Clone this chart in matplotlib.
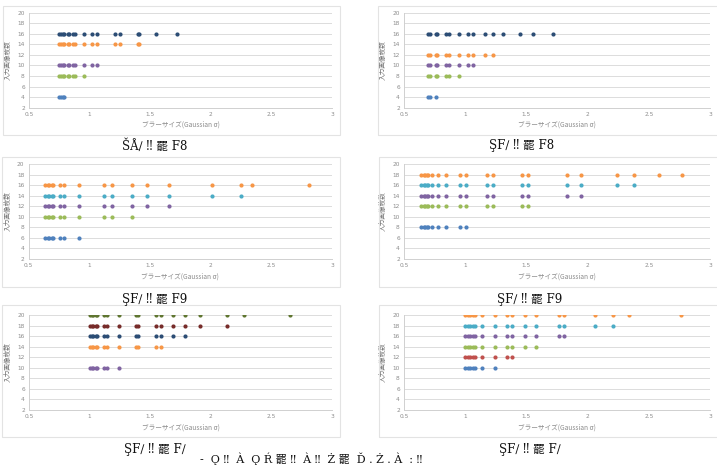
import matplotlib
matplotlib.use("Agg")
import matplotlib.pyplot as plt
from matplotlib.patches import Rectangle

# ---------------- data ----------------
x_ticks = [0.5, 1, 1.5, 2, 2.5, 3]
x_tick_labels = ["0.5", "1", "1.5", "2", "2.5", "3"]
y_ticks = [2, 4, 6, 8, 10, 12, 14, 16, 18, 20]

x_label = "ブラーサイズ(Gaussian σ)"
y_label = "入力画像枚数"

captions = ["ŠÅ∕ ‼ 罷 F8", "ŞF∕ ‼ 罷 F8", "ŞF∕ ‼ 罷 F9",
            "ŞF∕ ‼ 罷 F9", "ŞF∕ ‼ 罷 F∕", "ŞF∕ ‼ 罷 F∕"]
bottom_text = "-  Ǫ ‼  À  Ǫ Ŕ 罷 ‼  À ‼  Ż 罷  Ď . Ż . À  : ‼"

# panel 1 (top-left)
p1_y4 = [0.75, 0.76, 0.78, 0.79]
p1_y8 = [0.75, 0.76, 0.78, 0.79, 0.82, 0.83, 0.86, 0.88, 0.95]
p1_y10 = [0.75, 0.76, 0.78, 0.79, 0.82, 0.83, 0.86, 0.88, 0.95, 1.02, 1.06]
p1_y14 = [0.75, 0.76, 0.78, 0.79, 0.82, 0.83, 0.86, 0.88, 0.95, 1.02, 1.06,
          1.21, 1.25, 1.40, 1.41]
p1_y16 = [0.75, 0.76, 0.78, 0.79, 0.82, 0.83, 0.86, 0.88, 0.95, 1.02, 1.06,
          1.21, 1.25, 1.40, 1.41, 1.55, 1.72]

# panel 2 (top-right)
p2_y4 = [0.70, 0.71, 0.76]
p2_y8 = [0.70, 0.71, 0.76, 0.77, 0.84, 0.87, 0.95]
p2_y10 = [0.70, 0.71, 0.76, 0.77, 0.84, 0.87, 0.95, 1.02, 1.06]
p2_y12 = [0.70, 0.71, 0.76, 0.77, 0.84, 0.87, 0.95, 1.02, 1.06, 1.16, 1.23]
p2_y16 = [0.70, 0.71, 0.76, 0.77, 0.84, 0.87, 0.95, 1.02, 1.06, 1.16, 1.23,
          1.31, 1.45, 1.55, 1.72]

# panel 3 (middle-left)
p3_y6 = [0.64, 0.66, 0.67, 0.69, 0.70, 0.76, 0.79, 0.92]
p3_y10 = [0.64, 0.66, 0.67, 0.69, 0.70, 0.76, 0.79, 0.92, 1.12, 1.19, 1.35]
p3_y12 = [0.64, 0.66, 0.67, 0.69, 0.70, 0.76, 0.79, 0.92, 1.12, 1.19, 1.35,
          1.48, 1.66]
p3_y14 = [0.64, 0.66, 0.67, 0.69, 0.70, 0.76, 0.79, 0.92, 1.12, 1.19, 1.35,
          1.48, 1.66, 2.01, 2.25]
p3_y16 = [0.64, 0.66, 0.67, 0.69, 0.70, 0.76, 0.79, 0.92, 1.12, 1.19, 1.35,
          1.48, 1.66, 2.01, 2.25, 2.34, 2.81]

# panel 4 (middle-right)
p4_y8 = [0.64, 0.66, 0.67, 0.69, 0.70, 0.73, 0.78, 0.84, 0.96, 1.01]
p4_y12 = [0.64, 0.66, 0.67, 0.69, 0.70, 0.73, 0.78, 0.84, 0.96, 1.01,
          1.18, 1.23, 1.46, 1.51]
p4_y14 = [0.64, 0.66, 0.67, 0.69, 0.70, 0.73, 0.78, 0.84, 0.96, 1.01,
          1.18, 1.23, 1.46, 1.51, 1.83, 1.95]
p4_y16 = [0.64, 0.66, 0.67, 0.69, 0.70, 0.73, 0.78, 0.84, 0.96, 1.01,
          1.18, 1.23, 1.46, 1.51, 1.83, 1.95, 2.24, 2.38]
p4_y18 = [0.64, 0.66, 0.67, 0.69, 0.70, 0.73, 0.78, 0.84, 0.96, 1.01,
          1.18, 1.23, 1.46, 1.51, 1.83, 1.95, 2.24, 2.38, 2.58, 2.77]

# panel 5 (bottom-left)
p5_y10 = [1.00, 1.02, 1.03, 1.05, 1.06, 1.12, 1.14, 1.24]
p5_y14 = [1.00, 1.02, 1.03, 1.05, 1.06, 1.12, 1.14, 1.24, 1.38, 1.40, 1.55, 1.59]
p5_y16 = [1.00, 1.02, 1.03, 1.05, 1.06, 1.12, 1.14, 1.24, 1.38, 1.40, 1.55, 1.59,
          1.69, 1.79]
p5_y18 = [1.00, 1.02, 1.03, 1.05, 1.06, 1.12, 1.14, 1.24, 1.38, 1.40, 1.55, 1.59,
          1.69, 1.79, 1.91, 2.13]
p5_y20 = [1.00, 1.02, 1.03, 1.05, 1.06, 1.12, 1.14, 1.24, 1.38, 1.40, 1.55, 1.59,
          1.69, 1.79, 1.91, 2.13, 2.27, 2.65]

# panel 6 (bottom-right)
p6_y10 = [1.00, 1.02, 1.04, 1.06, 1.08, 1.14, 1.24]
p6_y12 = [1.00, 1.02, 1.04, 1.06, 1.08, 1.14, 1.24, 1.34, 1.38]
p6_y14 = [1.00, 1.02, 1.04, 1.06, 1.08, 1.14, 1.24, 1.34, 1.38, 1.49, 1.58]
p6_y16 = [1.00, 1.02, 1.04, 1.06, 1.08, 1.14, 1.24, 1.34, 1.38, 1.49, 1.58,
          1.77, 1.81]
p6_y18 = [1.00, 1.02, 1.04, 1.06, 1.08, 1.14, 1.24, 1.34, 1.38, 1.49, 1.58,
          1.77, 1.81, 2.06, 2.21]
p6_y20 = [1.00, 1.02, 1.04, 1.06, 1.08, 1.14, 1.24, 1.34, 1.38, 1.49, 1.58,
          1.77, 1.81, 2.06, 2.21, 2.34, 2.76]

# ---------------- styles ----------------
BLUE, RED, GREEN, PURPLE = "#4F81BD", "#C0504D", "#9BBB59", "#8064A2"
AQUA, ORANGE = "#4BACC6", "#F79646"
DBLUE, DRED, DGREEN = "#2C4D75", "#772C2A", "#5F7530"

panels = [
    [(4, p1_y4, BLUE), (8, p1_y8, GREEN), (10, p1_y10, PURPLE),
     (14, p1_y14, ORANGE), (16, p1_y16, DBLUE)],
    [(4, p2_y4, BLUE), (8, p2_y8, GREEN), (10, p2_y10, PURPLE),
     (12, p2_y12, ORANGE), (16, p2_y16, DBLUE)],
    [(6, p3_y6, BLUE), (10, p3_y10, GREEN), (12, p3_y12, PURPLE),
     (14, p3_y14, AQUA), (16, p3_y16, ORANGE)],
    [(8, p4_y8, BLUE), (12, p4_y12, GREEN), (14, p4_y14, PURPLE),
     (16, p4_y16, AQUA), (18, p4_y18, ORANGE)],
    [(10, p5_y10, PURPLE), (14, p5_y14, ORANGE), (16, p5_y16, DBLUE),
     (18, p5_y18, DRED), (20, p5_y20, DGREEN)],
    [(10, p6_y10, BLUE), (12, p6_y12, RED), (14, p6_y14, GREEN),
     (16, p6_y16, PURPLE), (18, p6_y18, AQUA), (20, p6_y20, ORANGE)],
]

W, H = 717, 468
fig = plt.figure(figsize=(W / 100, H / 100), dpi=100)
fig.patch.set_facecolor("white")

JP = ["Noto Sans CJK JP", "DejaVu Sans"]
SERIF = ["DejaVu Serif", "Noto Sans CJK JP"]

# plot-area pixel boxes: (left, right, top, bottom)
plot_boxes = [
    (29, 332, 12.7, 107.7), (404, 710, 12.7, 107.7),
    (28.5, 332, 164, 259), (404, 710, 164, 259),
    (29, 332, 315, 410), (404, 710, 315, 410),
]
# chart-area boxes: (left, right, top, bottom)
chart_boxes = [
    (3, 340, 6, 135), (378, 720, 6, 135),
    (2, 340, 157, 287), (379, 720, 157, 287),
    (2, 340, 305, 437), (379, 720, 305, 437),
]
caption_pos = [(155, 146), (522, 146), (155, 299), (530, 299), (155, 449), (530, 449)]

for (cl, cr, ct, cb) in chart_boxes:
    fig.patches.append(Rectangle((cl / W, 1 - cb / H), (cr - cl) / W, (cb - ct) / H,
                                 transform=fig.transFigure, fill=False,
                                 edgecolor="#e3e3e3", linewidth=0.8, zorder=0))

for i, (series, (l, r, t, b)) in enumerate(zip(panels, plot_boxes)):
    ax = fig.add_axes([l / W, 1 - b / H, (r - l) / W, (b - t) / H])
    ax.set_facecolor("none")
    for yv, xs, col in series:
        ax.scatter(xs, [yv] * len(xs), s=9, color=col, linewidths=0, zorder=3)
    ax.set_xlim(0.5, 3)
    ax.set_ylim(2, 20)
    ax.set_xticks(x_ticks)
    ax.set_xticklabels(x_tick_labels)
    ax.set_yticks(y_ticks)
    ax.grid(axis="y", color="#dcdcdc", linewidth=0.7)
    ax.set_axisbelow(True)
    for s in ["top", "right"]:
        ax.spines[s].set_visible(False)
    for s in ["left", "bottom"]:
        ax.spines[s].set_color("#d0d0d0")
        ax.spines[s].set_linewidth(0.7)
    ax.tick_params(axis="both", length=0, labelsize=4.2, labelcolor="#8c8c8c", pad=3)
    ax.set_xlabel(x_label, fontsize=4.8, color="#8c8c8c", family=JP, labelpad=3)
    ax.set_ylabel(y_label, fontsize=4.8, color="#707070", family=JP, labelpad=4)
    cx, cy = caption_pos[i]
    fig.text(cx / W, 1 - cy / H, captions[i], ha="center", va="center",
             fontsize=8.5, family=SERIF, color="#111111")

fig.text(200 / W, 1 - 459 / H, bottom_text, ha="left", va="center",
         fontsize=8, family=SERIF, color="#111111")

fig.savefig("out.png", dpi=100)
